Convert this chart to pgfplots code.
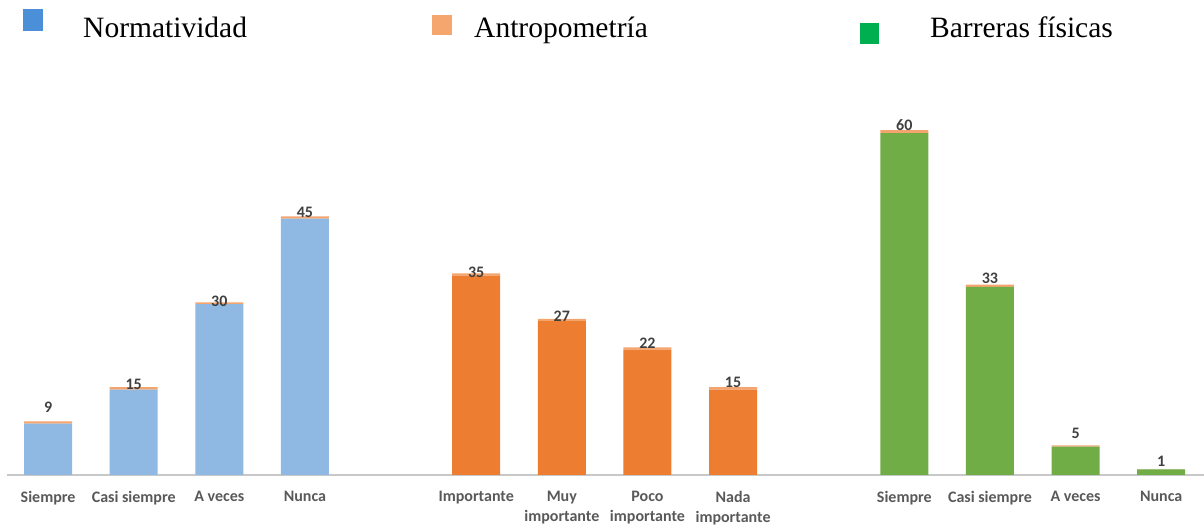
\documentclass[border=0pt]{standalone}
\usepackage{fontspec}
\setmainfont{Liberation Serif}
\newfontfamily\carlito{Carlito}
\usepackage{pgfplots}
\usepackage{pgfplotstable}
\pgfplotsset{compat=1.18}

\definecolor{normbar}{HTML}{8FB9E2}
\definecolor{antrobar}{HTML}{ED7D31}
\definecolor{barrbar}{HTML}{70AD47}
\definecolor{capcol}{HTML}{F4A46E}
\definecolor{normkey}{HTML}{4A8FD8}
\definecolor{antrokey}{HTML}{F4A66E}
\definecolor{barrkey}{HTML}{00B050}
\definecolor{axisgray}{HTML}{C8C8C8}
\definecolor{ticktext}{HTML}{595959}
\definecolor{valtext}{HTML}{404040}

% x: posicion (huecos en 4 y 9), cap = borde naranja fino, off = ajuste de la etiqueta
\pgfplotstableread{
x  norm antro barr cap   lab off
0  9    0     0    0.4   9   8
1  15   0     0    0.4   15  -3.5
2  30   0     0    0.3   30  -6
3  45   0     0    0.4   45  -2
5  0    35    0    0.4   35  -5
6  0    27    0    0.4   27  -4
7  0    22    0    0.4   22  -2
8  0    15    0    0.4   15  -1
10 0    0     60   0.5   60  -1.5
11 0    0     33   0.4   33  0
12 0    0     5    0.2   5   5
13 0    0     1    0.01  1   1
}\datos

\begin{document}
\begin{tikzpicture}[x=1pt,y=1pt]
\useasboundingbox (0,0) rectangle (1204,526);

% leyenda
\fill[normkey] (23,495) rectangle (43,517);
\node[anchor=base west, inner sep=0, font=\fontsize{29.5}{30}\selectfont] at (83,488) {Normatividad};
\fill[antrokey] (432,491) rectangle (452,511);
\node[anchor=base west, inner sep=0, font=\fontsize{29.5}{30}\selectfont] at (474,488) {Antropometría};
\fill[barrkey] (860,482) rectangle (879,503);
\node[anchor=base west, inner sep=0, font=\fontsize{29.5}{30}\selectfont] at (930,488) {Barreras físicas};

\begin{axis}[
    at={(7pt,51pt)}, anchor=south west,
    scale only axis, width=1197pt, height=420pt,
    xmin=-0.48, xmax=13.5, ymin=0, ymax=73.7,
    ybar stacked, bar width=0.56,
    axis y line=none, axis x line*=bottom,
    x axis line style={draw=axisgray, line width=2pt, -},
    major tick length=0,
    xtick={0,1,2,3,5,6,7,8,10,11,12,13},
    xticklabels={Siempre, Casi siempre, A veces, Nunca, Importante, {Muy\\importante}, {Poco\\importante}, {Nada\\importante}, Siempre, Casi siempre, A veces, Nunca},
    xticklabel style={font=\carlito\bfseries\fontsize{16}{20}\selectfont, text=ticktext, align=center, anchor=north, inner sep=0pt, yshift=-16pt},
    clip=false,
]
\addplot[fill=normbar, draw=none] table[x=x, y=norm] {\datos};
\addplot[fill=antrobar, draw=none] table[x=x, y=antro] {\datos};
\addplot[fill=barrbar, draw=none] table[x=x, y=barr] {\datos};
\addplot[fill=capcol, draw=none, point meta=explicit symbolic,
    visualization depends on={\thisrow{off} \as \off},
    nodes near coords,
    nodes near coords style={font=\carlito\bfseries\fontsize{16}{16}\selectfont, text=valtext, anchor=south, inner sep=2pt, yshift=\off pt}]
    table[x=x, y=cap, meta=lab] {\datos};
\end{axis}
\end{tikzpicture}
\end{document}
